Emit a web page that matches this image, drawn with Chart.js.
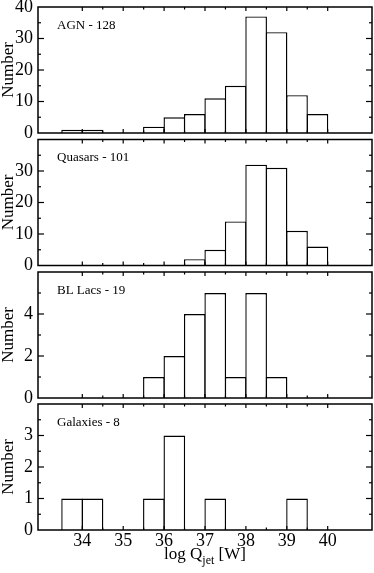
<!DOCTYPE html>
<html><head><meta charset="utf-8">
<script src="https://cdn.jsdelivr.net/npm/chart.js@4/dist/chart.umd.min.js"></script>
<style>
html,body{margin:0;padding:0;background:#fff;}
#wrap{position:relative;width:374px;height:573px;overflow:hidden;}
canvas{position:absolute;left:0;top:0;}
</style></head><body>
<div id="wrap">
<canvas id="c0" width="374" height="573"></canvas>
<canvas id="c1" width="374" height="573"></canvas>
<canvas id="c2" width="374" height="573"></canvas>
<canvas id="c3" width="374" height="573"></canvas>
</div>
<script>
// ---- data ----
const binCenters   = [33.75, 34.25, 34.75, 35.25, 35.75, 36.25, 36.75, 37.25, 37.75, 38.25, 38.75, 39.25, 39.75, 40.25];
const agnCounts    = [1, 1, 0, 0, 2, 5, 6, 11, 15, 37, 32, 12, 6, 0];
const quasarCounts = [0, 0, 0, 0, 0, 0, 2, 5, 14, 32, 31, 11, 6, 0];
const blLacCounts  = [0, 0, 0, 0, 1, 2, 4, 5, 1, 5, 1, 0, 0, 0];
const galaxyCounts = [1, 1, 0, 0, 1, 3, 0, 1, 0, 0, 0, 1, 0, 0];
const panelLabels  = ['AGN - 128', 'Quasars - 101', 'BL Lacs - 19', 'Galaxies - 8'];
const xTickValues  = [34, 35, 36, 37, 38, 39, 40];
const yMaxValues   = [40, 40, 6, 4];
const yMajorSteps  = [10, 10, 2, 1];
const yMinorSteps  = [5, 5, 1, 0.5];
const xMin = 33.5, xMax = 40.5, xMajorStep = 1, xMinorStep = 0.5;
const yTitle = 'Number';
const xTitleMain = 'log Q', xTitleSub = 'jet', xTitleEnd = ' [W]';

// ---- layout ----
const W = 374, H = 573;
const panelTops    = [7, 139.5, 272, 404];
const panelBottoms = [133, 265.5, 398, 530];
const plotLeft = 38, plotRightPad = 2;
const SERIF = '"Liberation Serif", "Times New Roman", serif';
const barLine = 1.4;
const tickFont = 18;

const allCounts = [agnCounts, quasarCounts, blLacCounts, galaxyCounts];

function makePlugin(i) {
  return {
    id: 'frame' + i,
    afterDatasetsDraw(chart) {
      const {ctx, chartArea: a, scales: {x, y}} = chart;
      ctx.save();
      ctx.strokeStyle = '#000';
      ctx.lineWidth = 1.2;
      const seg = (x1, y1, x2, y2) => { ctx.beginPath(); ctx.moveTo(x1, y1); ctx.lineTo(x2, y2); ctx.stroke(); };
      for (let v = xMin + xMinorStep; v < xMax - 1e-9; v += xMinorStep) {
        const px = x.getPixelForValue(v);
        const major = Math.abs(v / xMajorStep - Math.round(v / xMajorStep)) < 1e-6;
        const len = major ? 4 : 2.5;
        seg(px, a.top, px, a.top + len);
        seg(px, a.bottom, px, a.bottom - len);
      }
      const mj = yMajorSteps[i], mn = yMinorSteps[i];
      for (let v = mn; v < yMaxValues[i] - 1e-9; v += mn) {
        const py = y.getPixelForValue(v);
        const major = Math.abs(v / mj - Math.round(v / mj)) < 1e-6;
        const len = major ? 6 : 3;
        seg(a.left, py, a.left + len, py);
        seg(a.right, py, a.right - len, py);
      }
      ctx.lineWidth = 1.5;
      ctx.strokeRect(a.left, a.top, a.right - a.left, a.bottom - a.top);
      ctx.fillStyle = '#000';
      ctx.font = '13px ' + SERIF;
      ctx.textAlign = 'left';
      ctx.textBaseline = 'alphabetic';
      ctx.fillText(panelLabels[i], a.left + 19, a.top + 21.5);
      if (i === 3) {
        ctx.font = '17px ' + SERIF;
        const w1 = ctx.measureText(xTitleMain).width;
        const w3 = ctx.measureText(xTitleEnd).width;
        ctx.font = '12px ' + SERIF;
        const w2 = ctx.measureText(xTitleSub).width;
        const total = w1 + w2 + w3;
        let sx = (a.left + a.right) / 2 - total / 2;
        const base = 559;
        ctx.font = '17px ' + SERIF;
        ctx.fillText(xTitleMain, sx, base);
        sx += w1;
        ctx.font = '12px ' + SERIF;
        ctx.fillText(xTitleSub, sx, base + 5);
        sx += w2;
        ctx.font = '17px ' + SERIF;
        ctx.fillText(xTitleEnd, sx, base);
      }
      ctx.restore();
    }
  };
}

for (let i = 0; i < 4; i++) {
  const counts = allCounts[i];
  const bottomSpace = H - panelBottoms[i];
  const binPx = (W - plotLeft - plotRightPad) / (xMax - xMin) * xMinorStep;
  new Chart(document.getElementById('c' + i), {
    type: 'bar',
    data: {
      datasets: [{
        data: binCenters.map((c, k) => ({x: c, y: counts[k]})),
        backgroundColor: '#fff',
        borderColor: '#000',
        borderWidth: barLine,
        borderSkipped: 'start',
        barPercentage: (binPx + barLine) / binPx,
        categoryPercentage: 1
      }]
    },
    options: {
      responsive: false,
      animation: false,
      devicePixelRatio: 1,
      layout: {padding: {top: panelTops[i], left: 0, right: plotRightPad, bottom: 0}},
      plugins: {legend: {display: false}, tooltip: {enabled: false}},
      scales: {
        x: {
          type: 'linear',
          min: xMin, max: xMax,
          grid: {display: false, drawTicks: false},
          border: {display: false},
          afterBuildTicks(s) { s.ticks = xTickValues.map(v => ({value: v})); },
          ticks: {
            display: i === 3,
            color: '#000',
            font: {family: SERIF, size: tickFont},
            padding: 0,
            maxRotation: 0,
            autoSkip: false,
            callback: (v) => String(v)
          },
          afterFit(s) { s.height = bottomSpace; s.paddingLeft = 0; s.paddingRight = 0; }
        },
        y: {
          min: 0, max: yMaxValues[i],
          grid: {display: false, drawTicks: false},
          border: {display: false},
          ticks: {
            stepSize: yMajorSteps[i],
            color: '#000',
            font: {family: SERIF, size: tickFont},
            padding: 5,
            callback: (v) => (i > 0 && v === yMaxValues[i]) ? '' : String(v)
          },
          title: {
            display: true,
            text: yTitle,
            color: '#000',
            font: {family: SERIF, size: 17},
            padding: {top: -1.5, bottom: 0}
          },
          afterFit(s) { s.width = plotLeft; s.paddingTop = 0; s.paddingBottom = 0; }
        }
      }
    },
    plugins: [makePlugin(i)]
  });
}
</script>
</body></html>
